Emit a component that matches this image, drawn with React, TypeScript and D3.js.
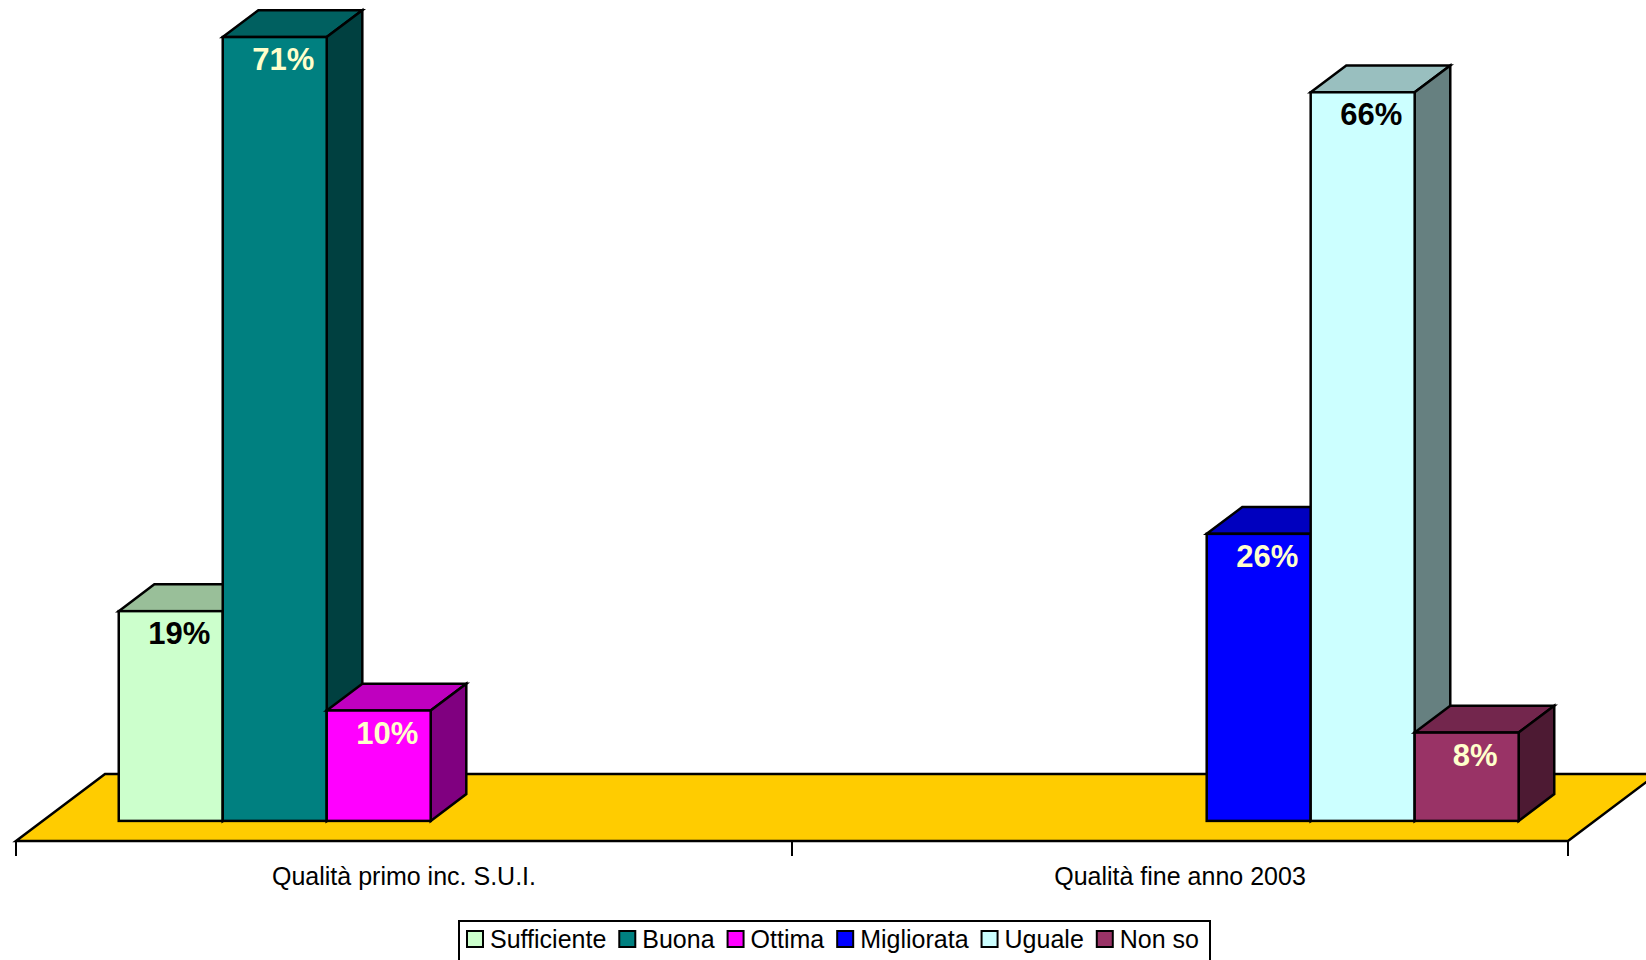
import React from "react";
import * as d3 from "d3";

const categories = ["Qualità primo inc. S.U.I.", "Qualità fine anno 2003"];
const seriesNames = ["Sufficiente", "Buona", "Ottima", "Migliorata", "Uguale", "Non so"];
const seriesColors = ["#CCFFCC", "#008080", "#FF00FF", "#0000FF", "#CCFFFF", "#993366"];
const labelColors = ["#000000", "#FFFFCC", "#FFFFCC", "#FFFFCC", "#000000", "#FFFFCC"];
const valuesPrimo: (number | null)[] = [19, 71, 10, null, null, null];
const valuesFine: (number | null)[] = [null, null, null, 26, 66, 8];
const seriesValues = [valuesPrimo, valuesFine];

const W = 1646;
const H = 960;
const FONT = "Arial, 'Liberation Sans', sans-serif";

function shade(c: string, k: number) {
  const r = d3.rgb(c);
  return d3.rgb(r.r * k, r.g * k, r.b * k).formatHex();
}

function measure(text: string, font: string) {
  if (typeof document === "undefined") return text.length * 12;
  const cv = document.createElement("canvas");
  const ctx = cv.getContext("2d");
  if (!ctx) return text.length * 12;
  ctx.font = font;
  return ctx.measureText(text).width;
}

export default function App() {
  const axisLeft = 16;
  const axisRight = 1568;
  const floorFrontY = 841;
  const depth: [number, number] = [89, -67];
  const t0 = 0.3;
  const t1 = 0.7;
  const fdx = depth[0] * t0;
  const fdy = depth[1] * t0;
  const bdx = depth[0] * (t1 - t0);
  const bdy = depth[1] * (t1 - t0);

  const x0 = d3
    .scaleBand<string>()
    .domain(categories)
    .range([axisLeft, axisRight])
    .paddingInner(0.196)
    .paddingOuter(0.098);
  const x1 = d3.scaleBand<string>().domain(seriesNames).range([0, x0.bandwidth()]);
  const base = floorFrontY + fdy;
  const y = d3.scaleLinear().domain([0, 100]).range([base, base - 1104]);

  const bars: any[] = [];
  categories.forEach((cat, ci) => {
    seriesNames.forEach((s, si) => {
      const v = seriesValues[ci][si];
      if (v == null) return;
      bars.push({
        x: (x0(cat) as number) + (x1(s) as number) + fdx,
        yt: y(v),
        w: x1.bandwidth(),
        color: seriesColors[si],
        labelColor: labelColors[si],
        v,
        key: cat + s,
      });
    });
  });
  bars.sort((a, b) => a.x - b.x);

  const floorPts = [
    [axisLeft, floorFrontY],
    [axisRight, floorFrontY],
    [axisRight + depth[0], floorFrontY + depth[1]],
    [axisLeft + depth[0], floorFrontY + depth[1]],
  ];

  const tickPositions = [axisLeft, (axisLeft + axisRight) / 2, axisRight];

  // legend layout
  const legFont = `25px ${FONT}`;
  let cx = 467;
  const legItems = seriesNames.map((s, i) => {
    const tw = measure(s, legFont);
    const item = { name: s, color: seriesColors[i], x: cx };
    cx += 23 + tw + 13;
    return item;
  });

  const line = d3.line();

  return (
    <svg
      width={W}
      height={H}
      style={{ position: "absolute", left: 0, top: 0, background: "#ffffff" }}
      fontFamily={FONT}
    >
      <rect x={0} y={0} width={W} height={H} fill="#ffffff" />
      <path
        d={line(floorPts as [number, number][]) + "Z"}
        fill="#FFCC00"
        stroke="#000"
        strokeWidth={2.5}
        strokeLinejoin="miter"
      />
      {tickPositions.map((tx, i) => (
        <line key={i} x1={tx} x2={tx} y1={floorFrontY} y2={floorFrontY + 15} stroke="#000" strokeWidth={2} />
      ))}
      {bars.map((b) => {
        const top = [
          [b.x, b.yt],
          [b.x + bdx, b.yt + bdy],
          [b.x + b.w + bdx, b.yt + bdy],
          [b.x + b.w, b.yt],
        ];
        const side = [
          [b.x + b.w, b.yt],
          [b.x + b.w + bdx, b.yt + bdy],
          [b.x + b.w + bdx, base + bdy],
          [b.x + b.w, base],
        ];
        return (
          <g key={b.key} stroke="#000" strokeWidth={2.5} strokeLinejoin="miter">
            <path d={line(top as [number, number][]) + "Z"} fill={shade(b.color, 0.75)} />
            <path d={line(side as [number, number][]) + "Z"} fill={shade(b.color, 0.5)} />
            <rect x={b.x} y={b.yt} width={b.w} height={base - b.yt} fill={b.color} />
          </g>
        );
      })}
      {bars.map((b) => (
        <text
          key={"l" + b.key}
          x={b.x + b.w / 2 + 8.5}
          y={b.yt + 33}
          textAnchor="middle"
          fontSize={31}
          fontWeight="bold"
          fill={b.labelColor}
        >
          {b.v}%
        </text>
      ))}
      {categories.map((c) => (
        <text
          key={"c" + c}
          x={(x0(c) as number) + x0.bandwidth() / 2}
          y={885}
          textAnchor="middle"
          fontSize={25}
          fill="#000"
        >
          {c}
        </text>
      ))}
      <rect x={459} y={921} width={751} height={60} fill="#fff" stroke="#000" strokeWidth={2} />
      {legItems.map((it) => (
        <g key={"g" + it.name}>
          <rect x={it.x} y={931} width={16} height={16} fill={it.color} stroke="#000" strokeWidth={2} />
          <text x={it.x + 23} y={947.5} fontSize={25} fill="#000">
            {it.name}
          </text>
        </g>
      ))}
    </svg>
  );
}
